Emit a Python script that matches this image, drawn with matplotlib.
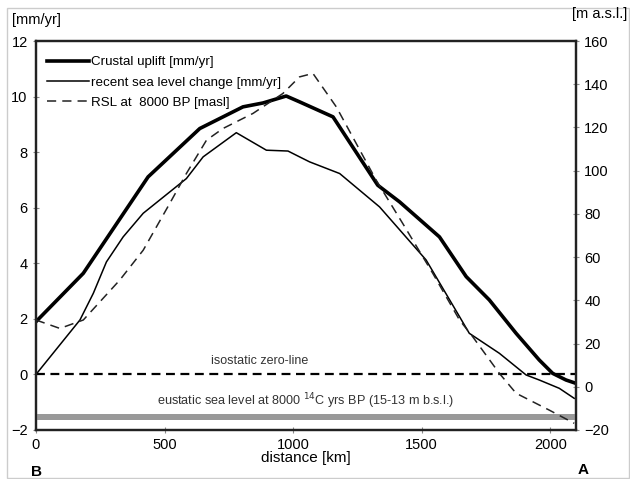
import matplotlib
matplotlib.use("Agg")
import matplotlib.pyplot as plt
from matplotlib.lines import Line2D
from matplotlib.patches import Rectangle

plt.rcParams['font.family'] = ['Liberation Sans', 'DejaVu Sans']

# crustal uplift [mm/yr]
uplift_km = [0, 184, 436, 637, 805, 883, 973, 1025, 1155, 1329, 1414, 1569, 1673, 1763, 1867, 1957, 2009, 2061, 2093]
uplift_val = [1.9, 3.64, 7.11, 8.85, 9.63, 9.77, 10.02, 9.81, 9.27, 6.81, 6.21, 4.95, 3.52, 2.68, 1.48, 0.52, 0.04, -0.2, -0.3]

# recent sea level change [mm/yr]
recent_km = [0, 171, 223, 274, 339, 417, 585, 650, 779, 896, 980, 1025, 1064, 1181, 1336, 1517, 1647, 1685, 1802, 1906, 1957, 2035, 2093]
recent_val = [0.0, 1.96, 2.92, 4.05, 4.95, 5.8, 7.05, 7.83, 8.7, 8.07, 8.04, 7.83, 7.65, 7.23, 6.03, 4.12, 2.08, 1.48, 0.76, -0.02, -0.2, -0.5, -0.86]

# RSL at 8000 BP [m a.s.l.]
rsl_km = [0, 93, 184, 326, 417, 520, 585, 663, 727, 844, 960, 1025, 1077, 1168, 1323, 1426, 1543, 1647, 1698, 1802, 1867, 1996, 2093]
rsl_m = [30.9, 27.0, 30.9, 49.4, 63.2, 84.8, 98.7, 114.1, 119.5, 126.5, 135.7, 143.4, 145.0, 129.5, 95.6, 75.6, 52.5, 30.9, 23.2, 6.2, -3.0, -10.8, -16.9]

# eustatic sea level band [m]
eustatic_low = -15.2
eustatic_high = -12.4

x_ticks = [0, 500, 1000, 1500, 2000]
left_ticks = [-2, 0, 2, 4, 6, 8, 10, 12]
right_ticks = [-20, 0, 20, 40, 60, 80, 100, 120, 140, 160]

fig = plt.figure(figsize=(6.3, 4.79), dpi=100)
ax = fig.add_axes([0.0571, 0.1023, 0.8572, 0.8121])
ax2 = ax.twinx()

ax.set_xlim(0, 2100)
ax.set_ylim(-2, 12)
ax2.set_ylim(-20, 160)

ax2.fill_between([0, 2100], eustatic_low, eustatic_high, color='#999999', lw=0)
ax.axhline(0, color='black', lw=1.6, ls=(0, (4, 2.5)))

ax.plot(uplift_km, uplift_val, color='black', lw=2.6)
ax.plot(recent_km, recent_val, color='black', lw=1.1)
ax2.plot(rsl_km, rsl_m, color='#222222', lw=1.1, ls=(0, (6, 4)))

ax.text(870, 0.47, 'isostatic zero-line', ha='center', va='center', fontsize=9, color='#333333')
ax.text(1049, -0.95, 'eustatic sea level at 8000 $^{14}$C yrs BP (15-13 m b.s.l.)',
        ha='center', va='center', fontsize=9.1, color='#333333')

handles = [Line2D([], [], color='black', lw=2.6),
           Line2D([], [], color='black', lw=1.1),
           Line2D([], [], color='#222222', lw=1.1, ls=(0, (6, 4)))]
labels = ['Crustal uplift [mm/yr]', 'recent sea level change [mm/yr]', 'RSL at  8000 BP [masl]']
ax.legend(handles, labels, loc='upper left', frameon=False, fontsize=9.6,
          handlelength=3.2, handletextpad=0.1, labelspacing=0.6,
          borderaxespad=0.0, bbox_to_anchor=(0.01, 0.975))

ax.set_xticks(x_ticks)
ax.set_yticks(left_ticks)
ax2.set_yticks(right_ticks)
for a in (ax, ax2):
    a.tick_params(labelsize=10.5, direction='inout', length=5, width=0.8, color='#888888')
    for s in a.spines.values():
        s.set_linewidth(1.6)
        s.set_color('#222222')

ax.set_xlabel('distance [km]', fontsize=11, labelpad=-1)
fig.text(12 / 630, 1 - 20 / 479, '[mm/yr]', fontsize=10.5, va='center', ha='left')
fig.text(572 / 630, 1 - 14 / 479, '[m a.s.l.]', fontsize=10.5, va='center', ha='left')
fig.text(36 / 630, 1 - 472 / 479, 'B', fontsize=11, fontweight='bold', va='center', ha='center')
fig.text(583 / 630, 1 - 470 / 479, 'A', fontsize=11, fontweight='bold', va='center', ha='center')

fig.patches.append(Rectangle((7 / 630, 1 / 479), 622 / 630, 470 / 479, transform=fig.transFigure,
                             fill=False, edgecolor='#cccccc', lw=1))

fig.savefig('out.png', dpi=100)
